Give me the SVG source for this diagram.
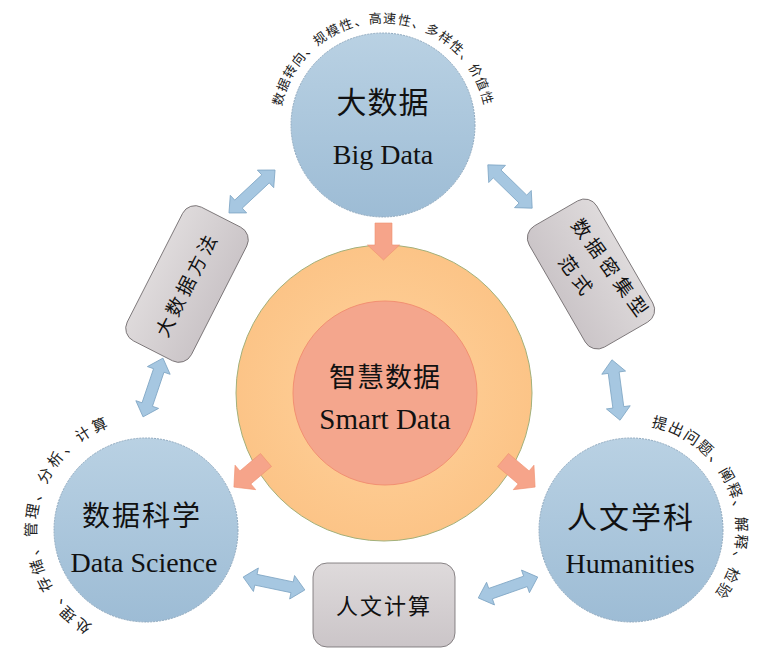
<svg xmlns="http://www.w3.org/2000/svg" width="776" height="660" viewBox="0 0 776 660">
<defs>
<linearGradient id="gBlue" x1="0" y1="0" x2="0" y2="1">
<stop offset="0" stop-color="#b9d1e3"/>
<stop offset="1" stop-color="#9dbcd5"/>
</linearGradient>
<linearGradient id="gGray" x1="0" y1="0" x2="0" y2="1">
<stop offset="0" stop-color="#dedadb"/>
<stop offset="1" stop-color="#cbc5c8"/>
</linearGradient>
<radialGradient id="gOrange" cx="0.5" cy="0.5" r="0.5">
<stop offset="0.6" stop-color="#fdca90"/>
<stop offset="1" stop-color="#fcc487"/>
</radialGradient>
<path id="arcTop" d="M280.1,121.4 A103,103 0 0 1 485.9,121.4"/>
<path id="arcLeft" d="M131.8,638.1 A109,109 0 0 1 152.7,421.2"/>
<path id="arcRight" d="M597.7,430.4 A105,105 0 0 1 671.2,627"/>
</defs>
<style>
.blue{fill:url(#gBlue);stroke:#8fa9bf;stroke-width:1;stroke-dasharray:2 1}
.gray{fill:url(#gGray);stroke:#6f6a6c;stroke-width:0.8}
.barrow{fill:#a6c7e1;stroke:#7fa6c4;stroke-width:0.8}
.oarrow{fill:#f6a48a;stroke:#f0906f;stroke-width:0.6}
.zh{font-family:"Liberation Serif","Noto Sans CJK SC",serif;fill:#111}
.en{font-family:"Liberation Serif","Times New Roman",serif;fill:#111}
.arc{font-family:"Liberation Serif","Noto Sans CJK SC",serif;fill:#222}
</style>
<rect width="776" height="660" fill="#ffffff"/>

<g id="smart-data">
<circle cx="384" cy="393" r="148" fill="url(#gOrange)" stroke="#a3b07a" stroke-width="1"/>
<circle cx="385" cy="393" r="92" fill="#f4a68d" stroke="#f29072" stroke-width="1"/>
<text class="zh" x="385" y="387" font-size="27" text-anchor="middle" letter-spacing="1">智慧数据</text>
<text class="en" x="385" y="429" font-size="29" text-anchor="middle">Smart Data</text>
</g>

<g id="big-data">
<circle class="blue" cx="383" cy="125" r="92"/>
<text class="zh" x="383" y="113" font-size="30" text-anchor="middle" letter-spacing="1">大数据</text>
<text class="en" x="383" y="164" font-size="28" text-anchor="middle">Big Data</text>
<text class="arc" font-size="13" letter-spacing="1.2"><textPath href="#arcTop" startOffset="50%" text-anchor="middle">数据转向、规模性、高速性、多样性、价值性</textPath></text>
</g>

<g id="data-science">
<circle class="blue" cx="146" cy="530" r="92"/>
<text class="zh" x="142" y="526" font-size="28" text-anchor="middle" letter-spacing="2">数据科学</text>
<text class="en" x="144" y="572" font-size="28" text-anchor="middle">Data Science</text>
<text class="arc" font-size="15" letter-spacing="3"><textPath href="#arcLeft" startOffset="50%" text-anchor="middle">处理、存储、管理、分析、计算</textPath></text>
</g>

<g id="humanities">
<circle class="blue" cx="631" cy="530" r="92"/>
<text class="zh" x="631" y="528" font-size="30" text-anchor="middle" letter-spacing="2">人文学科</text>
<text class="en" x="630" y="573" font-size="28" text-anchor="middle">Humanities</text>
<text class="arc" font-size="15" letter-spacing="1.5"><textPath href="#arcRight" startOffset="50%" text-anchor="middle">提出问题、阐释、解释、检验</textPath></text>
</g>

<g id="big-data-method" transform="translate(187,284) rotate(-63)">
<rect class="gray" x="-75" y="-36" width="150" height="72" rx="14"/>
<text class="zh" x="0" y="7" font-size="19" text-anchor="middle" letter-spacing="4">大数据方法</text>
</g>

<g id="data-intensive" transform="translate(591,274) rotate(60)">
<rect class="gray" x="-70" y="-39" width="140" height="78" rx="14"/>
<g transform="rotate(-6)">
<text class="zh" x="8" y="-12" font-size="19" text-anchor="middle" letter-spacing="5">数据密集型</text>
<text class="zh" x="-6" y="20" font-size="19" text-anchor="middle" letter-spacing="5">范式</text>
</g>
</g>

<g id="humanities-computing">
<rect class="gray" x="313" y="563" width="142" height="84" rx="14"/>
<text class="zh" x="384" y="614" font-size="22" text-anchor="middle" letter-spacing="2">人文计算</text>
</g>

<g id="connectors">
<path class="barrow" transform="translate(252,191.5) rotate(-43)" d="M-31.5,0 L-18.5,-12 L-18.5,-5.5 L18.5,-5.5 L18.5,-12 L31.5,0 L18.5,12 L18.5,5.5 L-18.5,5.5 L-18.5,12 Z"/>
<path class="barrow" transform="translate(153,387.5) rotate(-71.3)" d="M-31,0 L-18,-12 L-18,-5.5 L18,-5.5 L18,-12 L31,0 L18,12 L18,5.5 L-18,5.5 L-18,12 Z"/>
<path class="barrow" transform="translate(510,186.5) rotate(44.3)" d="M-31,0 L-18,-12 L-18,-5.5 L18,-5.5 L18,-12 L31,0 L18,12 L18,5.5 L-18,5.5 L-18,12 Z"/>
<path class="barrow" transform="translate(616,390) rotate(82.4)" d="M-30.5,0 L-17.5,-12 L-17.5,-5.5 L17.5,-5.5 L17.5,-12 L30.5,0 L17.5,12 L17.5,5.5 L-17.5,5.5 L-17.5,12 Z"/>
<path class="barrow" transform="translate(274,583.5) rotate(11.8)" d="M-31.5,0 L-18.5,-12 L-18.5,-5.5 L18.5,-5.5 L18.5,-12 L31.5,0 L18.5,12 L18.5,5.5 L-18.5,5.5 L-18.5,12 Z"/>
<path class="barrow" transform="translate(508,587.5) rotate(-19.3)" d="M-31.5,0 L-18.5,-12 L-18.5,-5.5 L18.5,-5.5 L18.5,-12 L31.5,0 L18.5,12 L18.5,5.5 L-18.5,5.5 L-18.5,12 Z"/>
<path class="oarrow" transform="translate(383.5,223) rotate(90)" d="M0,-8.5 L22,-8.5 L22,-16 L37,0 L22,16 L22,8.5 L0,8.5 Z"/>
<path class="oarrow" transform="translate(266,460) rotate(139.8)" d="M0,-8.5 L27,-8.5 L27,-16 L42,0 L27,16 L27,8.5 L0,8.5 Z"/>
<path class="oarrow" transform="translate(503,460) rotate(40.2)" d="M0,-8.5 L27,-8.5 L27,-16 L42,0 L27,16 L27,8.5 L0,8.5 Z"/>
</g>
</svg>
